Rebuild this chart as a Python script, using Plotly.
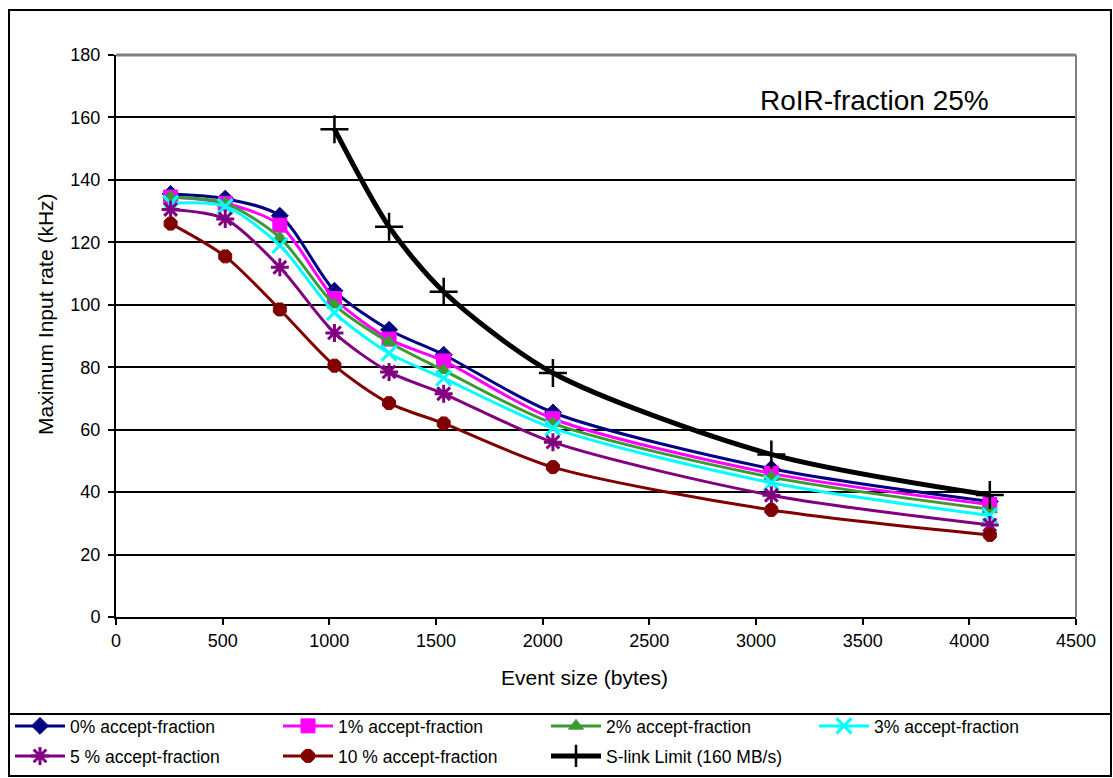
import plotly.graph_objects as go

# ---- data ----
event_size = [256, 512, 768, 1024, 1280, 1536, 2048, 3072, 4096]
acc0 = [135.5, 134.0, 128.5, 104.5, 92.0, 84.0, 65.5, 47.5, 37.0]
acc1 = [134.5, 132.5, 125.5, 102.0, 89.0, 82.0, 63.5, 46.0, 36.0]
acc2 = [134.5, 132.5, 121.5, 100.0, 88.0, 79.0, 62.0, 44.8, 34.5]
acc3 = [132.5, 131.5, 119.0, 97.5, 84.5, 76.5, 60.5, 43.0, 32.5]
acc5 = [130.5, 127.5, 112.0, 91.0, 78.5, 71.5, 56.0, 39.0, 29.5]
acc10 = [126.0, 115.5, 98.5, 80.5, 68.5, 62.0, 48.0, 34.3, 26.3]
slink_x = [1024, 1280, 1536, 2048, 3072, 4096]
slink_y = [156.25, 125.0, 104.17, 78.13, 52.08, 39.06]

names = ["0% accept-fraction", "1% accept-fraction", "2% accept-fraction",
         "3% accept-fraction", "5 % accept-fraction", "10 % accept-fraction"]
series = [acc0, acc1, acc2, acc3, acc5, acc10]
colors = ["#000080", "#FF00FF", "#3C9A32", "#00FFFF", "#800080", "#800000"]
symbols = ["diamond", "square", "triangle-up", "x-thin-open", "asterisk-open", "octagon"]
msizes = [13, 14, 13, 15, 15, 14]

FONT = "Liberation Sans, Arial, sans-serif"
W, H = 1113, 778
L, R, T, B = 116, 1076, 55, 617

def px(xp):
    return (xp - L) / (R - L)

def py(yp):
    return (B - yp) / (B - T)

fig = go.Figure()
for i, (nm, ys, c, s, ms) in enumerate(zip(names, series, colors, symbols, msizes)):
    mk = dict(symbol=s, size=ms, color=c)
    if s.endswith("open"):
        mk["line"] = dict(color=c, width=3)
    else:
        mk["line"] = dict(color=c, width=1)
    fig.add_trace(go.Scatter(x=event_size, y=ys, name=nm, mode="lines+markers",
                             line=dict(color=c, width=3, shape="spline", smoothing=0.8),
                             marker=mk, legend="legend" if i < 4 else "legend2"))

fig.add_trace(go.Scatter(x=slink_x, y=slink_y, name="S-link Limit (160 MB/s)",
                         mode="lines+markers", legend="legend2",
                         line=dict(color="black", width=5, shape="spline", smoothing=0.8),
                         marker=dict(symbol="cross-thin-open", size=20,
                                     line=dict(color="black", width=2.5))))

leg_common = dict(orientation="h", xanchor="left", yanchor="middle",
                  entrywidth=203, entrywidthmode="pixels",
                  font=dict(size=17.5, family=FONT, color="black"),
                  bgcolor="rgba(0,0,0,0)", itemwidth=50)

fig.update_layout(
    width=W, height=H,
    margin=dict(l=L, r=W - R, t=T, b=H - B, autoexpand=False),
    paper_bgcolor="white", plot_bgcolor="white",
    font=dict(family=FONT, size=17, color="black"),
    showlegend=True,
    legend=dict(x=px(10), y=py(726), **leg_common),
    legend2=dict(x=px(10), y=py(756), **leg_common),
)
fig.update_xaxes(range=[0, 4500], dtick=500, tick0=0, showgrid=False,
                 showline=True, linecolor="black", linewidth=2,
                 ticks="outside", ticklen=6, tickwidth=2, tickcolor="black",
                 tickfont=dict(size=18), zeroline=False, fixedrange=True)
fig.update_yaxes(range=[0, 180], dtick=20, tick0=0, showgrid=True,
                 gridcolor="black", gridwidth=2,
                 showline=True, linecolor="black", linewidth=2,
                 ticks="outside", ticklen=6, tickwidth=2, tickcolor="black",
                 ticklabelstandoff=4,
                 tickfont=dict(size=18), zeroline=False, fixedrange=True)

shapes = [
    # plot area top & right border (grey)
    dict(type="line", xref="paper", yref="paper", x0=0, x1=1, y0=1, y1=1,
         line=dict(color="#808080", width=3), layer="above"),
    dict(type="line", xref="paper", yref="paper", x0=1, x1=1, y0=0, y1=1,
         line=dict(color="#808080", width=2), layer="above"),
    # outer chart border
    dict(type="rect", xref="paper", yref="paper", x0=px(9), x1=px(1111),
         y0=py(776), y1=py(10), line=dict(color="black", width=2)),
    # legend box
    dict(type="rect", xref="paper", yref="paper", x0=px(9), x1=px(1111),
         y0=py(776), y1=py(714), line=dict(color="black", width=2)),
]
fig.update_layout(shapes=shapes)

fig.add_annotation(text="RoIR-fraction 25%", xref="paper", yref="paper",
                   x=px(874), y=py(101), showarrow=False,
                   font=dict(size=28, family=FONT), xanchor="center", yanchor="middle")
fig.add_annotation(text="Event size (bytes)", xref="paper", yref="paper",
                   x=px(584), y=py(677), showarrow=False,
                   font=dict(size=21, family=FONT), xanchor="center", yanchor="middle")
fig.add_annotation(text="Maximum Input rate (kHz)", xref="paper", yref="paper",
                   x=px(45), y=py(314), showarrow=False, textangle=-90,
                   font=dict(size=21, family=FONT), xanchor="center", yanchor="middle")

fig.write_html("out.html")
